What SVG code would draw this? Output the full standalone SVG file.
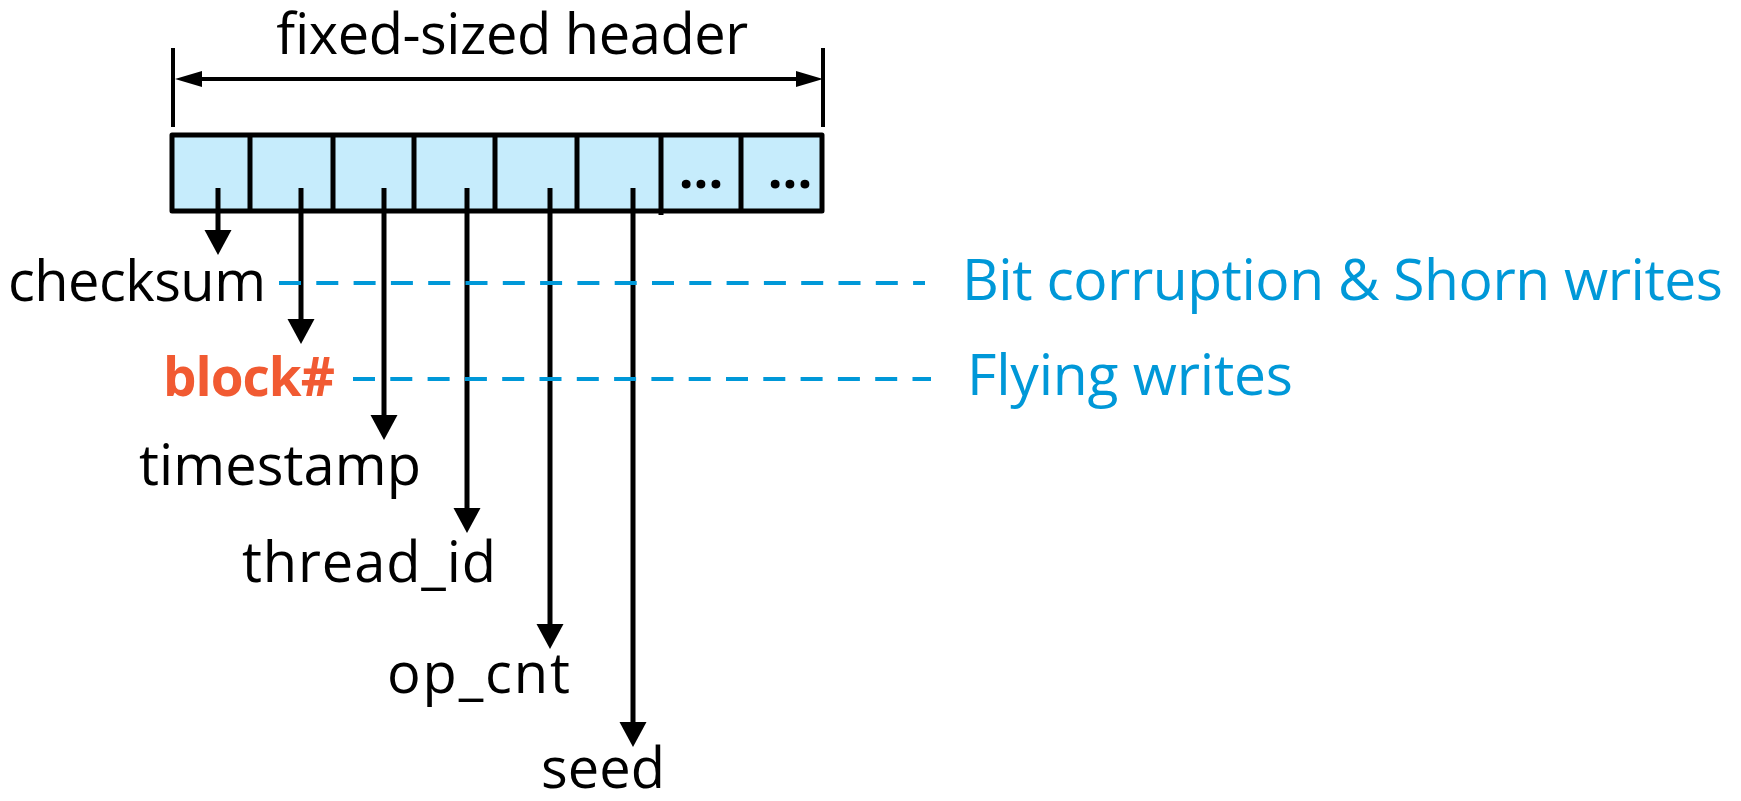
<svg xmlns="http://www.w3.org/2000/svg" width="1741" height="801" viewBox="0 0 1741 801">
  <style>
    .lbl { font-family: "Open Sans", "Noto Sans", sans-serif; font-size: 56px; fill: #000; }
    .err { font-family: "Open Sans", "Noto Sans", sans-serif; font-size: 57px; fill: #0098D8; }
    .hot { font-family: "Open Sans", "Noto Sans", sans-serif; font-size: 53px; font-weight: bold; fill: #F15A32; }
    .dots { font-family: "Open Sans", "Noto Sans", sans-serif; font-size: 52px; font-weight: bold; fill: #000; }
    .cell { fill: #C6ECFC; stroke: #000; stroke-width: 5; stroke-linejoin: round; }
    .sep { stroke: #000; stroke-width: 5; }
    .tick { stroke: #000; stroke-width: 4; }
    .wire { stroke: #000; stroke-width: 5; fill: none; marker-end: url(#head); }
    .dim { stroke: #000; stroke-width: 4; fill: none; marker-start: url(#dimhead); marker-end: url(#dimhead); }
    .dash { stroke: #0098D8; stroke-width: 4; stroke-dasharray: 22 15.3; fill: none; }
  </style>
  <defs>
    <marker id="head" markerUnits="userSpaceOnUse" markerWidth="26" markerHeight="28" refX="5" refY="13.5" orient="auto">
      <path d="M0,0 L25,13.5 L0,27 Z" fill="#000"/>
    </marker>
    <marker id="dimhead" markerUnits="userSpaceOnUse" markerWidth="28" markerHeight="17" refX="7" refY="8" orient="auto-start-reverse">
      <path d="M0,0 L27,8 L0,16 Z" fill="#000"/>
    </marker>
  </defs>

  <!-- header width dimension -->
  <g id="dimension">
    <line class="tick" x1="173" y1="48" x2="173" y2="127"/>
    <line class="tick" x1="823" y1="48" x2="823" y2="127"/>
    <line class="dim" x1="195" y1="79" x2="803" y2="79"/>
    <text class="lbl" x="512" y="54" text-anchor="middle" textLength="472">fixed-sized header</text>
  </g>

  <!-- header record with its fields -->
  <g id="header">
    <rect class="cell" x="172" y="135" width="650" height="76"/>
    <line class="sep" x1="250" y1="135" x2="250" y2="211"/>
    <line class="sep" x1="333" y1="135" x2="333" y2="211"/>
    <line class="sep" x1="414" y1="135" x2="414" y2="211"/>
    <line class="sep" x1="495" y1="135" x2="495" y2="211"/>
    <line class="sep" x1="577" y1="135" x2="577" y2="211"/>
    <line class="sep" x1="661" y1="135" x2="661" y2="215"/>
    <line class="sep" x1="741" y1="135" x2="741" y2="211"/>
    <text class="dots" x="701" y="188" text-anchor="middle">...</text>
    <text class="dots" x="790" y="188" text-anchor="middle">...</text>
  </g>

  <!-- field pointers and protection lines -->
  <g id="connectors">
    <line class="wire" x1="218" y1="188" x2="218" y2="235"/>
    <line class="wire" x1="301" y1="188" x2="301" y2="324"/>
    <line class="wire" x1="384" y1="188" x2="384" y2="420"/>
    <line class="wire" x1="467" y1="188" x2="467" y2="513"/>
    <line class="wire" x1="550" y1="188" x2="550" y2="629"/>
    <line class="wire" x1="633" y1="188" x2="633" y2="727"/>
    <line class="dash" x1="279" y1="283" x2="925" y2="283"/>
    <line class="dash" x1="353" y1="379" x2="931" y2="379"/>
  </g>

  <g id="checksum"><text class="lbl" x="266" y="301" text-anchor="end" textLength="258">checksum</text></g>
  <g id="block"><text class="hot" x="335" y="396" text-anchor="end" textLength="172">block#</text></g>
  <g id="timestamp"><text class="lbl" x="421" y="485" text-anchor="end" textLength="282">timestamp</text></g>
  <g id="thread_id"><text class="lbl" x="496" y="582" text-anchor="end" textLength="254">thread_id</text></g>
  <g id="op_cnt"><text class="lbl" x="570" y="693" text-anchor="end" textLength="183">op_cnt</text></g>
  <g id="seed"><text class="lbl" x="665" y="788" text-anchor="end" textLength="124">seed</text></g>

  <g id="bit-corruption"><text class="err" x="962" y="300" textLength="761">Bit corruption &amp; Shorn writes</text></g>
  <g id="flying-writes"><text class="err" x="967" y="395" textLength="326">Flying writes</text></g>
</svg>
